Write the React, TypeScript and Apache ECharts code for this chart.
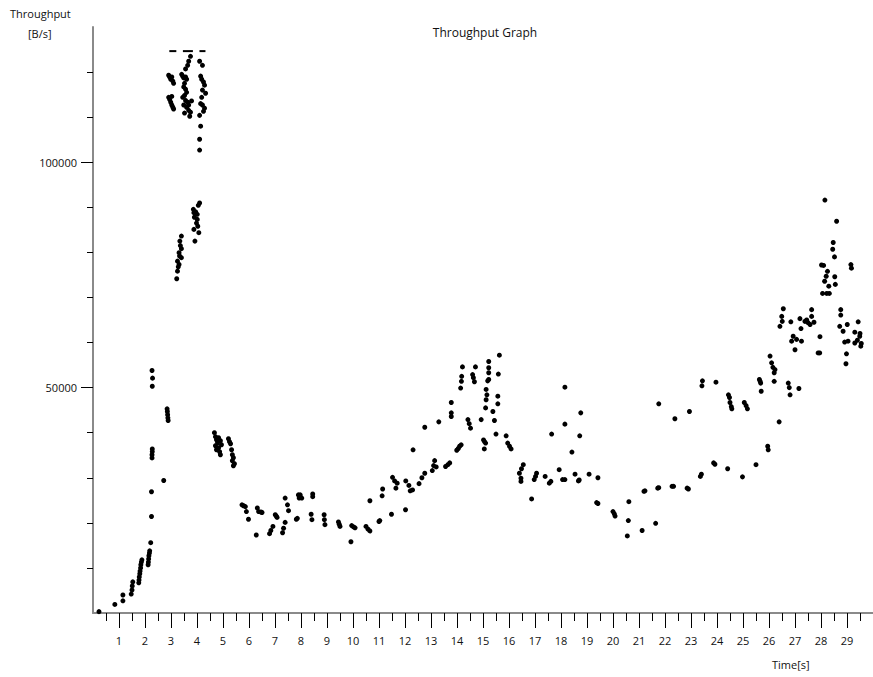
import React, { useEffect, useRef } from "react";
import * as echarts from "echarts";

// [time (s), throughput (B/s)]
const rampPoints: number[][] = [
  [0.23, 300], [0.84, 1900], [1.15, 2700], [1.15, 4000], [1.47, 4200], [1.5, 5100], [1.51, 6000], [1.53, 6900],
  [1.76, 6700], [1.77, 7300], [1.78, 8000], [1.8, 8700], [1.81, 9300], [1.83, 10000], [1.84, 10700], [1.86, 11300], [1.88, 11800],
  [2.12, 10700], [2.13, 11300], [2.14, 12000], [2.15, 12700], [2.17, 13300], [2.18, 13800], [2.22, 15600], [2.25, 21400],
  [2.25, 26900], [2.27, 34400], [2.27, 35100], [2.28, 35800], [2.28, 36400], [2.28, 50300], [2.29, 52100], [2.27, 53800],
  [2.72, 29400], [2.85, 45300], [2.86, 44700], [2.87, 44000], [2.88, 43300], [2.89, 42700],
];

const burstPoints: number[][] = [
  [2.91, 119300], [2.95, 118900], [2.99, 118400], [3.03, 118900], [3.07, 118000], [3.1, 117500],
  [2.91, 114400], [2.95, 113900], [2.99, 113300], [3.03, 112700], [3.07, 112200], [3.1, 111800], [3.03, 114600],
  [3.41, 119500], [3.45, 119100], [3.49, 118700], [3.56, 118900], [3.6, 118400], [3.52, 117500], [3.49, 116700],
  [3.56, 116200], [3.6, 115500], [3.52, 114800], [3.45, 114400], [3.56, 113700], [3.64, 113300], [3.49, 112700],
  [3.6, 112200], [3.68, 111500], [3.75, 111100], [3.72, 110200], [3.64, 121500], [3.68, 122400], [3.75, 123500],
  [3.56, 120700], [3.52, 110900], [3.68, 112700], [3.79, 113600],
  [4.1, 122400], [4.21, 121500], [4.14, 119100], [4.18, 118400], [4.25, 117800], [4.29, 117100], [4.21, 116000],
  [4.33, 115300], [4.14, 113000], [4.21, 112700], [4.29, 112000], [4.25, 111300], [4.1, 110400], [4.14, 108000],
  [4.1, 105100], [4.1, 102700], [4.18, 114400],
  [4.1, 90950], [4.05, 90440], [3.86, 89550], [3.88, 88820], [4.01, 88440], [4.01, 87320], [3.88, 85100], [4.07, 84370],
  [3.92, 82500], [3.95, 89000], [3.98, 86500], [3.9, 87800], [4.03, 85800],
  [3.4, 83620], [3.34, 82500], [3.4, 80820], [3.31, 79930], [3.4, 78820], [3.25, 78060], [3.31, 77330], [3.25, 75840],
  [3.22, 74150], [3.36, 81500], [3.33, 79200], [3.28, 76800],
  [4.67, 40000], [4.71, 39110], [4.75, 38440], [4.79, 37770], [4.71, 37100], [4.83, 36660], [4.75, 36220], [4.87, 35770],
  [4.9, 35100], [4.83, 38890], [4.9, 38220], [4.94, 37330],
  [5.21, 38660], [5.25, 38000], [5.29, 37550], [5.33, 36220], [5.36, 35100], [5.4, 34440], [5.36, 33770], [5.44, 33110], [5.4, 32660],
];

const midPoints: number[][] = [
  [5.73, 24000], [5.79, 23800], [5.86, 23600], [5.9, 22500], [5.98, 20800], [6.28, 17300], [6.32, 23300], [6.37, 22500],
  [6.5, 22300], [6.46, 22400], [6.79, 17600], [6.84, 18300], [6.92, 19200], [7.01, 21800], [7.05, 21500], [7.08, 21200],
  [7.29, 17800], [7.33, 18800], [7.39, 20100], [7.39, 25500], [7.48, 24000], [7.52, 22700], [7.82, 20800], [7.86, 21000],
  [7.9, 26200], [7.93, 25500], [7.97, 26200], [8.03, 25500], [8.45, 26400], [8.45, 25800], [8.39, 21900], [8.42, 20700],
  [8.89, 21800], [8.9, 20700], [8.92, 19600], [9.44, 20200], [9.47, 19700], [9.5, 19200], [9.95, 19400], [10.02, 19100],
  [10.08, 18900], [9.92, 15800], [10.5, 19200], [10.58, 18600], [10.65, 18200], [10.65, 24900], [11.0, 20300], [11.03, 20500],
  [11.14, 27500], [11.12, 26000], [11.48, 21900], [11.52, 30100], [11.6, 29300], [11.7, 28800], [11.65, 27700],
  [12.02, 22900], [12.03, 29300], [12.15, 28300], [12.29, 27300], [12.2, 27100], [12.31, 36200], [12.54, 28700],
  [12.65, 30000], [12.76, 31000], [12.76, 41200], [13.05, 31600], [13.1, 32700], [13.14, 33800], [13.2, 32400],
  [13.3, 42400], [13.56, 32500], [13.65, 32900], [13.72, 33300], [13.78, 44400], [13.78, 43600], [13.78, 46700],
  [13.99, 36100], [14.05, 36500], [14.1, 37000], [14.16, 37300], [14.14, 49900], [14.17, 51400], [14.21, 54600],
  [14.18, 52500], [14.42, 42900], [14.47, 42000], [14.52, 41000], [14.6, 52900], [14.63, 52200], [14.67, 51300],
  [14.71, 54600], [14.93, 42900], [15.02, 38400], [15.06, 38000], [15.1, 37700], [15.05, 36400], [15.12, 49600],
  [15.15, 48400], [15.1, 45500], [15.12, 47300], [15.22, 55800], [15.22, 54400], [15.22, 53300], [15.22, 51800],
  [15.18, 51500], [15.38, 44700], [15.44, 42700], [15.5, 39700], [15.57, 48100], [15.57, 46400], [15.59, 53000],
  [15.63, 57200], [15.89, 39300], [15.95, 37700], [16.02, 37000], [16.08, 36400], [16.4, 31000], [16.48, 32000],
  [16.55, 32900], [16.46, 29200], [16.46, 29900], [16.87, 25300], [16.97, 29600], [17.02, 30300], [17.06, 31000],
  [17.39, 30300], [17.55, 28800], [17.61, 29200], [17.64, 39700], [17.93, 31800], [18.06, 29600], [18.15, 29600],
  [18.15, 41900], [18.15, 50100], [18.42, 35700], [18.54, 30800], [18.67, 29300], [18.7, 29500], [18.72, 39300],
  [18.76, 44400], [19.08, 30800], [19.42, 30000], [19.37, 24500], [19.42, 24300],
];

const latePoints: number[][] = [
  [20.0, 22500], [20.05, 22000], [20.08, 21500], [20.61, 24700], [20.59, 20500], [20.55, 17100], [21.12, 18300],
  [21.19, 27000], [21.23, 27100], [21.64, 19900], [21.72, 27700], [21.76, 27800], [21.76, 46400], [22.27, 28100],
  [22.33, 28100], [22.38, 43100], [22.85, 27700], [22.9, 27500], [22.94, 44700], [23.36, 30300], [23.4, 30800],
  [23.42, 50400], [23.44, 51500], [23.87, 33300], [23.92, 33000], [23.96, 51200], [24.41, 32000], [24.44, 48400],
  [24.48, 47800], [24.5, 46700], [24.55, 45800], [24.57, 45300], [24.98, 30200], [25.05, 46700], [25.12, 46000],
  [25.17, 45300], [25.5, 32900], [25.63, 51800], [25.68, 51000], [25.7, 49200], [25.66, 51400], [25.95, 37000],
  [25.97, 36200], [26.04, 57000], [26.1, 55500], [26.15, 54500], [26.2, 53300], [26.23, 54000], [26.2, 51400],
  [26.39, 42400], [26.74, 51000], [26.78, 50000], [26.81, 48400], [27.15, 49800],
  [28.15, 91600], [28.6, 86900], [28.47, 82200], [28.45, 80700], [28.52, 79000], [29.15, 77300], [29.17, 76500],
  [28.02, 77200], [28.1, 77100], [28.25, 75800], [28.2, 74700], [28.14, 73600], [28.53, 74600], [28.3, 72500],
  [28.55, 72900], [28.06, 70900], [28.22, 70900], [28.32, 70900], [26.55, 67500], [26.49, 65800], [26.51, 64700],
  [26.42, 63600], [26.84, 64600], [27.19, 65300], [27.38, 64700], [27.5, 64400], [27.45, 65000], [27.64, 67300],
  [27.64, 65800], [27.73, 64500], [27.58, 64000], [27.23, 63100], [26.93, 61400], [27.06, 60700], [26.87, 60300],
  [27.25, 60300], [27.0, 58400], [27.96, 61300], [27.89, 57700], [27.95, 57700], [28.76, 67300], [28.76, 66100],
  [28.72, 63600], [28.85, 62500], [29.01, 64000], [29.43, 64600], [29.3, 62300], [29.49, 61400], [28.91, 60100],
  [29.04, 60300], [29.3, 59900], [29.53, 59200], [29.55, 59800], [28.98, 57500], [28.96, 55300], [29.4, 60500], [29.5, 62000],
];

// short horizontal marks at the top of the burst
const clipTimes: number[] = [3.07, 3.65, 4.21];
const clipValue = 124650;

const xMajorTicks: number[] = Array.from({ length: 29 }, (_, i) => i + 1);
const xMinorTicks: number[] = Array.from({ length: 30 }, (_, i) => i + 0.5);
const yMajorTicks: number[] = [50000, 100000];
const yMinorTicks: number[] = [10000, 20000, 30000, 40000, 50000, 60000, 70000, 80000, 90000, 100000, 110000, 120000];

const FONT = "'Open Sans', 'Noto Sans', sans-serif";
const TXT = "#111111";

export default function App() {
  const ref = useRef<HTMLDivElement>(null);
  useEffect(() => {
    if (!ref.current) return;
    const chart = echarts.init(ref.current, null, { renderer: "svg" });
    const clipWidths = [7, 10, 6];
    const baseX = {
      type: "value", min: 0, max: 30, gridIndex: 0, position: "bottom",
      splitLine: { show: false },
    };
    const baseY = {
      type: "value", min: 0, max: 130000, gridIndex: 0, position: "left",
      splitLine: { show: false },
    };
    chart.setOption({
      animation: false,
      backgroundColor: "#ffffff",
      title: {
        text: "Throughput Graph", left: 480, top: 21, textAlign: "center",
        textStyle: { fontFamily: FONT, fontSize: 12, fontWeight: "normal", color: TXT },
      },
      grid: { left: 93, right: 0, top: 27, bottom: 64, containLabel: false },
      xAxis: [
        {
          ...baseX,
          axisLine: { show: true, lineStyle: { color: "#8a8a8a", width: 2 } },
          axisTick: { show: true, length: 8, customValues: xMinorTicks, lineStyle: { color: "#000", width: 1 } },
          axisLabel: { show: false },
        },
        {
          ...baseX,
          axisLine: { show: false },
          axisTick: { show: true, length: 15, customValues: xMajorTicks, lineStyle: { color: "#000", width: 1 } },
          axisLabel: {
            show: true, customValues: xMajorTicks, margin: 22,
            fontFamily: FONT, fontSize: 11, color: TXT,
            formatter: (v: number) => String(v),
          },
        },
      ],
      yAxis: [
        {
          ...baseY,
          axisLine: { show: true, lineStyle: { color: "#8a8a8a", width: 2 } },
          axisTick: { show: true, length: 6, customValues: yMinorTicks, lineStyle: { color: "#000", width: 1 } },
          axisLabel: { show: false },
        },
        {
          ...baseY,
          axisLine: { show: false },
          axisTick: { show: true, length: 12, customValues: yMajorTicks, lineStyle: { color: "#000", width: 1 } },
          axisLabel: {
            show: true, customValues: yMajorTicks, margin: 16,
            fontFamily: FONT, fontSize: 11, color: TXT,
            formatter: (v: number) => String(v),
          },
        },
      ],
      graphic: [
        { type: "text", left: 10, top: 8, style: { text: "Throughput", fontFamily: FONT, fontSize: 11, fill: TXT } },
        { type: "text", left: 28, top: 28, style: { text: "[B/s]", fontFamily: FONT, fontSize: 11, fill: TXT } },
        { type: "text", left: 772, top: 659, style: { text: "Time[s]", fontFamily: FONT, fontSize: 11, fill: TXT } },
      ],
      series: [
        {
          type: "scatter", xAxisIndex: 0, yAxisIndex: 0, symbol: "circle", symbolSize: 5,
          itemStyle: { color: "#000", opacity: 1 },
          data: [...rampPoints, ...burstPoints, ...midPoints, ...latePoints],
          silent: true,
        },
        {
          type: "scatter", xAxisIndex: 0, yAxisIndex: 0, symbol: "rect",
          itemStyle: { color: "#000", opacity: 1 },
          data: clipTimes.map((t, i) => ({ value: [t, clipValue], symbolSize: [clipWidths[i], 2] })),
          silent: true,
        },
      ],
    });
    return () => chart.dispose();
  }, []);
  return <div ref={ref} style={{ position: "fixed", left: 0, top: 0, width: 873, height: 677, background: "#fff" }} />;
}
